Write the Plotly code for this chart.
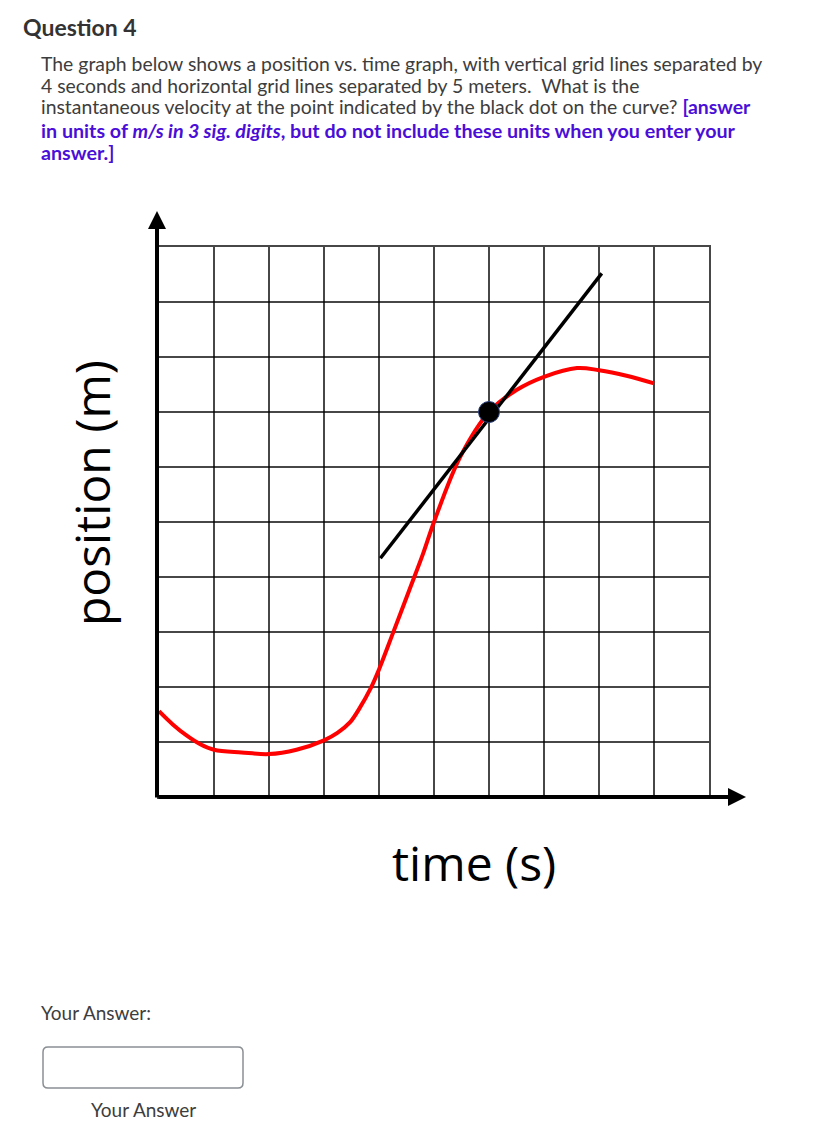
import plotly.graph_objects as go

# ---- data (time in s, position in m) ----
curve_t = [0, 1, 2, 3, 4, 6, 8, 10, 12, 13, 13.9, 14.6, 15.4, 16, 17, 18.2, 19.2, 20, 21.9, 24, 26, 28, 30.4, 32, 34, 36]
curve_x = [7.8, 6.6, 5.6, 4.8, 4.3, 4.05, 3.9, 4.3, 5.15, 5.85, 6.8, 8.1, 9.9, 11.6, 14.85, 18.8, 22.1, 25.0, 30.9, 35.0, 37.0, 38.2, 39.0, 38.8, 38.3, 37.6]
tangent_t = [16.1, 32.2]
tangent_x = [21.7, 47.6]
dot_t = [24]
dot_x = [35]
x_grid_step = 4
y_grid_step = 5
x_max = 40
y_max = 50

OFF = 8  # page body margin
W, H = 820 - OFF, 1138 - OFF
L, R, T, B = 159 - OFF, 709 - OFF, 247 - OFF, 797 - OFF


def px(x):
    return (x - OFF - L) / (R - L)


def py(y):
    return (B - (y - OFF)) / (B - T)


fig = go.Figure()
fig.add_trace(go.Scatter(x=curve_t, y=curve_x, mode="lines",
                         line=dict(color="#ff0000", width=4, shape="spline", smoothing=1.0),
                         hoverinfo="skip", cliponaxis=False))
fig.add_trace(go.Scatter(x=tangent_t, y=tangent_x, mode="lines",
                         line=dict(color="#000000", width=3.5), hoverinfo="skip", cliponaxis=False))
fig.add_trace(go.Scatter(x=dot_t, y=dot_x, mode="markers",
                         marker=dict(color="#000000", size=21, line=dict(color="#2a3f7a", width=1)),
                         hoverinfo="skip", cliponaxis=False))

grid_col = "rgba(0,0,0,0.72)"
fig.update_xaxes(range=[0, x_max], dtick=x_grid_step, tick0=0, showgrid=True, gridcolor=grid_col,
                 gridwidth=1.6, showticklabels=False, zeroline=False, showline=True, mirror=True,
                 linecolor=grid_col, linewidth=1.6, ticks="", fixedrange=True)
fig.update_yaxes(range=[0, y_max], dtick=y_grid_step, tick0=0, showgrid=True, gridcolor=grid_col,
                 gridwidth=1.6, showticklabels=False, zeroline=False, showline=True, mirror=True,
                 linecolor=grid_col, linewidth=1.6, ticks="", fixedrange=True)

annotations = []
# axis arrows
annotations.append(dict(x=px(157), y=py(211), xref="paper", yref="paper", ax=0, ay=797 - 211 + 2,
                        showarrow=True, arrowhead=2, arrowsize=0.9, arrowwidth=4, arrowcolor="#000", text=""))
annotations.append(dict(x=px(746), y=py(797), xref="paper", yref="paper", ax=-(746 - 157), ay=0,
                        showarrow=True, arrowhead=2, arrowsize=0.9, arrowwidth=4, arrowcolor="#000", text=""))

# axis titles
annotations.append(dict(x=px(474), y=py(862), xref="paper", yref="paper", text="time (s)",
                        showarrow=False, font=dict(family="Open Sans", size=48, color="#000"),
                        xanchor="center", yanchor="middle"))
annotations.append(dict(x=px(91), y=py(493), xref="paper", yref="paper", text="position (m)",
                        showarrow=False, font=dict(family="Open Sans", size=48, color="#000"),
                        textangle=-90, xanchor="center", yanchor="middle"))

# question text
txt_col = "#3d3d3d"
pur = "#4a0ed8"
annotations.append(dict(x=px(21), y=py(27), xref="paper", yref="paper", text="<b>Question 4</b>",
                        showarrow=False, font=dict(family="Lato", size=23, color="#333333"),
                        xanchor="left", yanchor="middle"))
body_lines = [
    "The graph below shows a position vs. time graph, with vertical grid lines separated by",
    "4 seconds and horizontal grid lines separated by 5 meters.  What is the",
    "instantaneous velocity at the point indicated by the black dot on the curve? "
    f"<b><span style='color:{pur}'>[answer</span></b>",
    f"<b><span style='color:{pur}'>in units of <i>m/s in 3 sig. digits</i>, but do not include these units when you enter your</span></b>",
    f"<b><span style='color:{pur}'>answer.]</span></b>",
]
body_sizes = [19.4, 19.4, 19.4, 19.7, 19.7]
body_y = [63, 85, 107, 130, 152]
for t, yy, fs in zip(body_lines, body_y, body_sizes):
    annotations.append(dict(x=px(39), y=py(yy), xref="paper", yref="paper", text=t,
                            showarrow=False, font=dict(family="Lato", size=fs, color=txt_col),
                            xanchor="left", yanchor="middle"))

annotations.append(dict(x=px(39), y=py(1013), xref="paper", yref="paper", text="Your Answer:",
                        showarrow=False, font=dict(family="Lato", size=19, color=txt_col),
                        xanchor="left", yanchor="middle"))
annotations.append(dict(x=px(143), y=py(1109), xref="paper", yref="paper", text="Your Answer",
                        showarrow=False, font=dict(family="Lato", size=19, color=txt_col),
                        xanchor="center", yanchor="middle"))

# answer box (rounded rectangle) in paper coords
x0, x1, y0, y1, r = 43, 243, 1047, 1088, 5
rx = r / (R - L)
ry = r / (B - T)
X0, X1 = px(x0), px(x1)
Y0, Y1 = py(y1), py(y0)
path = (f"M {X0+rx},{Y0} L {X1-rx},{Y0} Q {X1},{Y0} {X1},{Y0+ry} L {X1},{Y1-ry} "
        f"Q {X1},{Y1} {X1-rx},{Y1} L {X0+rx},{Y1} Q {X0},{Y1} {X0},{Y1-ry} L {X0},{Y0+ry} "
        f"Q {X0},{Y0} {X0+rx},{Y0} Z")
shapes = [dict(type="path", path=path, xref="paper", yref="paper",
               line=dict(color="#8a8f94", width=1.5), fillcolor="white")]

fig.update_layout(width=W, height=H, margin=dict(l=L, r=W - R, t=T, b=H - B, pad=0),
                  paper_bgcolor="white", plot_bgcolor="white", showlegend=False,
                  annotations=annotations, shapes=shapes)

fig.write_html("out.html", config={"displayModeBar": False})
